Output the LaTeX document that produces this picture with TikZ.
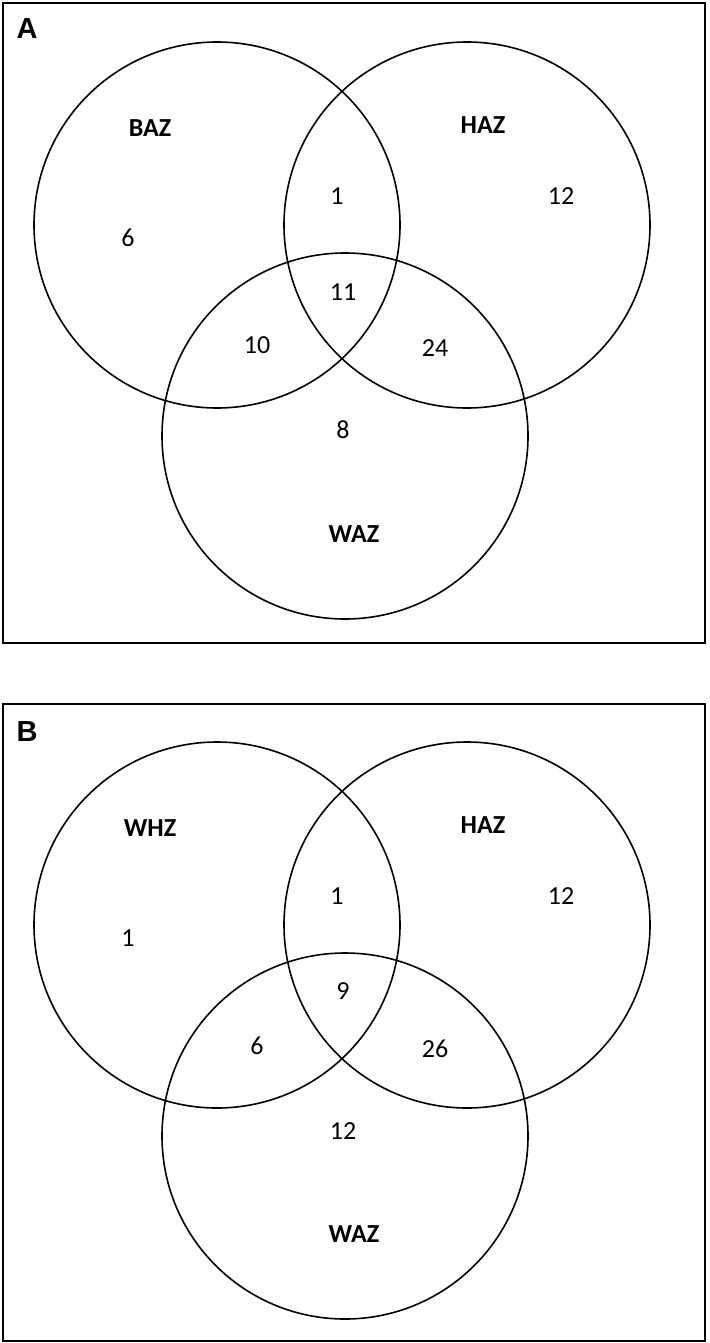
\documentclass[tikz,border=0pt]{standalone}
\usepackage{fontspec}
\setmainfont{Carlito}
\newfontfamily\panelfont{Liberation Sans}
\begin{document}
\begin{tikzpicture}[x=1pt,y=-1pt,
  panelbox/.style={draw=black,line width=2pt},
  venncircle/.style={circle,draw=black,line width=1.6pt,minimum size=366pt,inner sep=0pt},
  setlabel/.style={font=\fontsize{26}{30}\selectfont\bfseries,inner sep=0pt},
  count/.style={font=\fontsize{26}{30}\selectfont,inner sep=0pt},
  paneltag/.style={font=\panelfont\fontsize{29}{33}\selectfont\bfseries,inner sep=0pt}]
\useasboundingbox (0,0) rectangle (709,1343);
% Panel A
\draw[panelbox] (3,3) rectangle (705,643);
\node[paneltag] (tagA) at (27,29) {A};
\node[venncircle] (LA) at (217,225) {};
\node[venncircle] (RA) at (467,225) {};
\node[venncircle] (BA) at (345,436) {};
\node[setlabel] (bazA) at (150,128) {BAZ};
\node[setlabel] (hazA) at (483,125) {HAZ};
\node[setlabel] (wazA) at (354,534) {WAZ};
\node[count] (a1) at (128,238) {6};
\node[count] (a2) at (337,196) {1};
\node[count] (a3) at (561,196) {12};
\node[count] (a4) at (343,292) {11};
\node[count] (a5) at (257,345) {10};
\node[count] (a6) at (435,348) {24};
\node[count] (a7) at (343,430) {8};
% Panel B
\draw[panelbox] (3,704) rectangle (705,1341);
\node[paneltag] (tagB) at (27,732) {B};
\node[venncircle] (LB) at (217,925) {};
\node[venncircle] (RB) at (467,925) {};
\node[venncircle] (BB) at (345,1136) {};
\node[setlabel] (whzB) at (150,828) {WHZ};
\node[setlabel] (hazB) at (483,825) {HAZ};
\node[setlabel] (wazB) at (354,1234) {WAZ};
\node[count] (b1) at (128,938) {1};
\node[count] (b2) at (337,896) {1};
\node[count] (b3) at (561,896) {12};
\node[count] (b4) at (343,991) {9};
\node[count] (b5) at (257,1046) {6};
\node[count] (b6) at (435,1049) {26};
\node[count] (b7) at (343,1131) {12};
\end{tikzpicture}
\end{document}
